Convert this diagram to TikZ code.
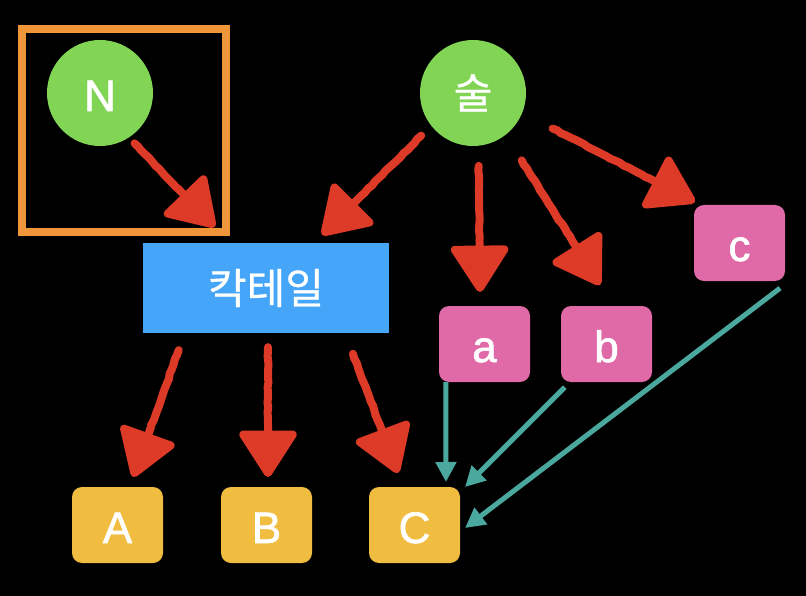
\documentclass[tikz,border=0pt]{standalone}
\usepackage{fontspec}
\usetikzlibrary{arrows.meta,decorations.pathmorphing,calc}
\newfontfamily\latinfont[FakeBold=1.5]{Liberation Sans}
\newfontfamily\hangulfont[FakeBold=0.8]{Noto Sans CJK KR}
\definecolor{leaf}{RGB}{130,212,84}
\definecolor{frameorange}{RGB}{240,149,58}
\definecolor{sky}{RGB}{69,165,248}
\definecolor{rose}{RGB}{224,106,168}
\definecolor{mustard}{RGB}{240,189,64}
\definecolor{sea}{RGB}{74,168,158}
\definecolor{brick}{RGB}{221,58,40}

\begin{document}
\begin{tikzpicture}
      [x = 1pt, y = -1pt,
      latin/.style= {
         text = white,
         font = \latinfont\fontsize{44}{48}\selectfont,
         text height = 36pt,
         text depth = 0pt
      },
      hangul/.style= {
         text = white,
         font = \hangulfont\fontsize{42}{46}\selectfont
      },
      bubble/.style= {
         fill = leaf,
         circle,
         inner sep = 0pt,
         minimum size = 106pt
      },
      tag/.style= {
         rounded corners = 10pt,
         inner sep = 0pt,
         minimum width = 91pt,
         minimum height = 76pt,
         latin
      },
      sketch/.style= {
         draw = brick,
         line width = 8pt,
         line cap = round,
         line join = round,
         decorate,
         decoration = {random steps, segment length = 5pt, amplitude = 0.6pt,
            post length = 52pt},
         -{Triangle[length = 50pt, width = 62pt, round]}
      },
      link/.style= {
         draw = sea,
         line width = 5pt,
         -{Triangle[length = 20pt, width = 20pt]}
      }]

      \fill[black] (0, 0) rectangle (806, 596);
      \useasboundingbox (0, 0) rectangle (806, 596);

      \node[draw = frameorange, line width = 8pt, minimum width = 204pt,
         minimum height = 203pt, inner sep = 0pt] (group) at (124, 130.5) {};

      \node[bubble, latin] (N) at (100, 93) {N};
      \node[bubble, hangul] (sul) at (473, 93) {술};

      \node[fill = sky, minimum width = 246pt, minimum height = 90pt,
         inner sep = 0pt, hangul] (cocktail) at (266, 288) {칵테일};

      \node[tag, fill = rose] (a) at (484.5, 344) {a};
      \node[tag, fill = rose] (b) at (606.5, 344) {b};
      \node[tag, fill = rose] (c) at (739.5, 243) {c};

      \node[tag, fill = mustard] (A) at (117.5, 525) {A};
      \node[tag, fill = mustard] (B) at (266.5, 525) {B};
      \node[tag, fill = mustard] (C) at (414.5, 525) {C};

      \coordinate (N-tip) at (215, 227);
      \coordinate (cocktail-tip) at (322, 235);
      \coordinate (a-tip) at (480, 292);
      \coordinate (b-tip) at (600, 285);
      \coordinate (c-tip) at (695, 202);
      \coordinate (A-tip) at (133, 477);
      \coordinate (B-tip) at (268, 477);
      \coordinate (C-tip) at (398, 473);

      \draw[sketch] ($(N.-57)!8pt!(N-tip)$) -- (N-tip);
      \draw[sketch] ($(sul.218)!14pt!(cocktail-tip)$) -- (cocktail-tip);
      \draw[sketch] ($(sul.-84)!20pt!(a-tip)$) -- (a-tip);
      \draw[sketch] ($(sul.-52)!30pt!(b-tip)$) -- (b-tip);
      \draw[sketch] ($(sul.-22)!34pt!(c-tip)$) -- (c-tip);

      \draw[sketch] ($([xshift = 42pt]cocktail.south west)!18pt!(A-tip)$) -- (A-tip);
      \draw[sketch] ($([xshift = 2pt]cocktail.south)!14pt!(B-tip)$) -- (B-tip);
      \draw[sketch] ($([xshift = -44pt]cocktail.south east)!22pt!(C-tip)$) -- (C-tip);

      \coordinate (C-from-a) at (446, 482);
      \coordinate (C-from-b) at (465, 487);
      \coordinate (C-from-c) at (465, 528);

      \draw[link] ([xshift = 7pt]a.south west) -- (C-from-a);
      \draw[link] ($([xshift = 9pt]b.south west)!7pt!(C-from-b)$) -- (C-from-b);
      \draw[link] ($([xshift = 4pt]c.south east)!11.5pt!(C-from-c)$) -- (C-from-c);

   \end{tikzpicture}
\end{document}
